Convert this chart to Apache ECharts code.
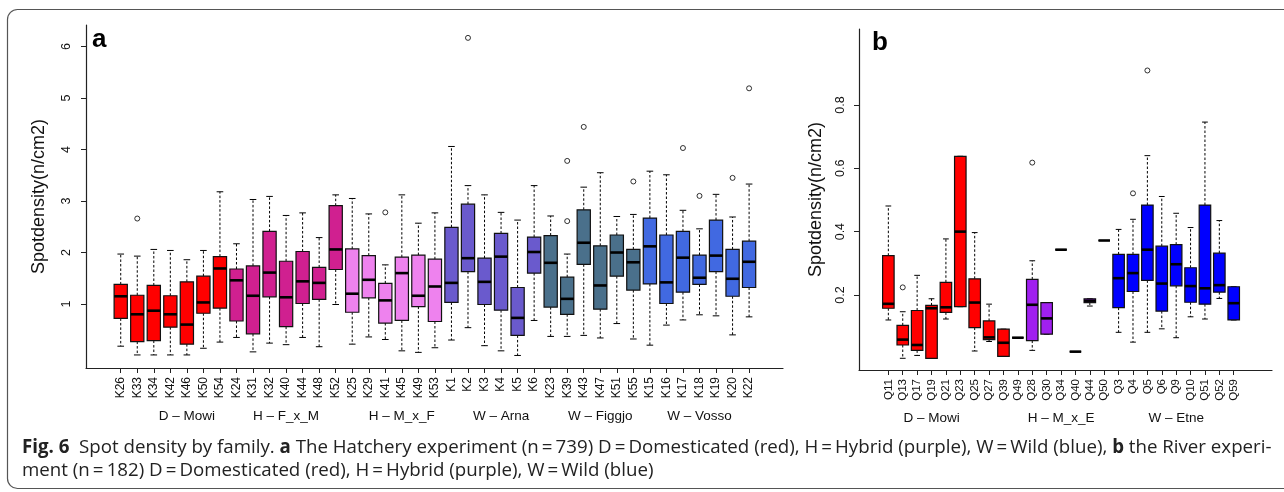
<!DOCTYPE html>
<html><head><meta charset="utf-8">
<script src="https://cdn.jsdelivr.net/npm/echarts@6/dist/echarts.min.js"></script>
<style>html,body{margin:0;padding:0;background:#fff}#c{width:1284px;height:492px}</style>
</head><body><div id="c"></div>
<script>
// ---------- Panel a: Hatchery experiment ----------
const namesA = ['K26','K33','K34','K42','K46','K50','K54','K24','K31','K32','K40','K44','K48','K52','K25','K29','K41','K45','K49','K53','K1','K2','K3','K4','K5','K6','K23','K39','K43','K47','K51','K55','K15','K16','K17','K18','K19','K20','K22'];
const groupA = [0,0,0,0,0,0,0, 1,1,1,1,1,1,1, 2,2,2,2,2,2, 3,3,3,3,3,3, 4,4,4,4,4,4, 5,5,5,5,5,5,5];
const lowA  = [0.18,0.01,0.01,0.01,0.01,0.14,0.26, 0.35,0.07,0.24,0.21,0.35,0.17,0.99, 0.22,0.36,0.31,0.09,0.06,0.15, 0.30,0.54,0.19,0.09,0.00,0.68, 0.37,0.37,0.39,0.34,0.62,0.32, 0.20,0.59,0.69,0.79,0.77,0.40,0.75];
const q1A   = [0.72,0.27,0.29,0.55,0.22,0.82,0.92, 0.67,0.42,1.14,0.56,1.01,1.09,1.67, 0.84,1.12,0.63,0.68,0.95,0.66, 1.03,1.63,0.99,0.88,0.39,1.60, 0.94,0.80,1.77,0.90,1.54,1.27, 1.39,1.01,1.23,1.38,1.63,1.15,1.32];
const medA  = [1.15,0.80,0.87,0.80,0.60,1.03,1.69, 1.46,1.16,1.61,1.13,1.44,1.41,2.06, 1.20,1.47,1.07,1.60,1.16,1.34, 1.41,1.89,1.43,1.92,0.73,2.01, 1.80,1.10,2.19,1.36,2.00,1.81, 2.12,1.42,1.90,1.51,1.94,1.49,1.82];
const q3A   = [1.38,1.17,1.36,1.16,1.43,1.54,1.92, 1.68,1.74,2.41,1.83,2.02,1.71,2.91, 2.07,1.94,1.40,1.91,1.95,1.87, 2.49,2.94,1.89,2.37,1.32,2.30, 2.33,1.52,2.83,2.13,2.34,2.06, 2.67,2.34,2.41,1.95,2.63,2.06,2.22];
const highA = [1.97,1.93,2.06,2.04,1.86,2.04,3.18, 2.17,3.03,3.09,2.72,2.77,2.29,3.12, 3.05,2.75,1.76,3.12,2.57,2.77, 4.06,3.30,3.12,2.78,2.63,3.30, 2.71,1.97,3.27,3.55,2.70,2.74, 3.58,3.51,2.82,2.46,3.13,2.69,3.33];
const outNamesA = ['K33','K41','K2','K39','K39','K43','K55','K17','K18','K20','K22'];
const outValsA  = [2.66,2.78,6.17,3.78,2.61,4.44,3.38,4.03,3.10,3.45,5.19];
const groupLabelsA = ['D – Mowi','H – F_x_M','H – M_x_F','W – Arna','W – Figgjo','W – Vosso'];
const groupLabelPosA = [5,11,18,24,30,36];
const yTicksA = [1,2,3,4,5,6];

// ---------- Panel b: River experiment ----------
const namesB = ['Q11','Q13','Q17','Q19','Q21','Q23','Q25','Q27','Q39','Q49','Q28','Q30','Q34','Q40','Q44','Q50','Q3','Q4','Q5','Q6','Q9','Q10','Q51','Q52','Q59'];
const groupB = [0,0,0,0,0,0,0,0,0, 1,1,1,1,1,1,1, 2,2,2,2,2,2,2,2,2];
const lowB  = [0.121,0.000,0.009,0.000,0.124,0.163,0.023,0.053,0.006, 0.065,0.025,0.076,0.343,0.021,0.165,0.372, 0.082,0.051,0.082,0.093,0.065,0.131,0.124,0.189,0.121];
const q1B   = [0.158,0.042,0.025,0.000,0.145,0.163,0.097,0.059,0.006, 0.065,0.056,0.076,0.343,0.021,0.176,0.372, 0.160,0.211,0.246,0.149,0.229,0.177,0.171,0.209,0.121];
const medB  = [0.172,0.059,0.042,0.158,0.161,0.400,0.176,0.066,0.049, 0.065,0.169,0.126,0.343,0.021,0.182,0.372, 0.253,0.269,0.343,0.236,0.297,0.228,0.221,0.231,0.174];
const q3B   = [0.324,0.104,0.151,0.167,0.240,0.638,0.251,0.118,0.092, 0.065,0.249,0.176,0.343,0.021,0.188,0.372, 0.328,0.328,0.484,0.354,0.359,0.286,0.484,0.332,0.226];
const highB = [0.481,0.147,0.262,0.188,0.377,0.638,0.397,0.171,0.092, 0.065,0.308,0.176,0.343,0.021,0.188,0.372, 0.407,0.439,0.640,0.511,0.458,0.413,0.746,0.435,0.226];
const outNamesB = ['Q13','Q28','Q4','Q5'];
const outValsB  = [0.224,0.618,0.521,0.909];
const groupLabelsB = ['D – Mowi','H – M_x_E','W – Etne'];
const groupLabelPosB = [4,13,21];
const yTicksB = [0.2,0.4,0.6,0.8];

// ---------- styles ----------
const paletteA = ['#FF0000','#D02090','#EE82EE','#6A5ACD','#4A708B','#4169E1'];
const paletteB = ['#FF0000','#A020F0','#0000FF'];
const rFont = 'Liberation Sans, Arial, Helvetica, sans-serif';
const capFont = '"Open Sans", "Noto Sans", sans-serif';

function boxData(lo,q1,md,q3,hi){ return lo.map((v,i)=>[i+1, v, q1[i], md[i], q3[i], hi[i]]); }
function outData(names, outNames, outVals){ return outNames.map((n,i)=>[names.indexOf(n)+1, outVals[i]]); }
function ticksFor(names){ return names.map((n,i)=>i+1); }

function boxRender(palette, groups){
  return function(params, api){
    const x = api.value(0);
    const pLo = api.coord([x, api.value(1)]);
    const pQ1 = api.coord([x, api.value(2)]);
    const pMd = api.coord([x, api.value(3)]);
    const pQ3 = api.coord([x, api.value(4)]);
    const pHi = api.coord([x, api.value(5)]);
    const unit = api.size([1, 0])[0];
    const hw = unit * 0.4, sw = unit * 0.2;
    const cx = pMd[0];
    const dash = {stroke:'#000', lineWidth:1, lineDash:[2.5,2]};
    const solid = {stroke:'#000', lineWidth:1};
    return {type:'group', children:[
      {type:'line', shape:{x1:cx,y1:pQ3[1],x2:cx,y2:pHi[1]}, style:dash},
      {type:'line', shape:{x1:cx,y1:pQ1[1],x2:cx,y2:pLo[1]}, style:dash},
      {type:'line', shape:{x1:cx-sw,y1:pHi[1],x2:cx+sw,y2:pHi[1]}, style:solid},
      {type:'line', shape:{x1:cx-sw,y1:pLo[1],x2:cx+sw,y2:pLo[1]}, style:solid},
      {type:'rect', shape:{x:cx-hw,y:pQ3[1],width:2*hw,height:pQ1[1]-pQ3[1]}, style:{fill:palette[groups[params.dataIndex]], stroke:'#111', lineWidth:1.2}},
      {type:'line', shape:{x1:cx-hw,y1:pMd[1],x2:cx+hw,y2:pMd[1]}, style:{stroke:'#000', lineWidth:2.6}}
    ]};
  };
}

function xAxes(gridIndex, min, max, names, gLabels, gPos, fs){
  return [{
    type:'value', gridIndex, min, max, position:'bottom',
    axisLine:{show:true, onZero:false, lineStyle:{color:'#222', width:1.2}},
    axisTick:{show:true, length:5, customValues:ticksFor(names), lineStyle:{color:'#222'}},
    axisLabel:{show:true, customValues:ticksFor(names), rotate:90, margin:9, fontSize:fs, fontFamily:rFont, color:'#111',
      formatter:(v)=>names[Math.round(v)-1] || ''},
    splitLine:{show:false}
  },{
    type:'value', gridIndex, min, max, position:'bottom',
    axisLine:{show:false}, axisTick:{show:false}, splitLine:{show:false},
    axisLabel:{show:true, customValues:gPos, margin:41, fontSize:13.5, fontFamily:rFont, color:'#111',
      formatter:(v)=>gLabels[gPos.indexOf(Math.round(v))] || ''}
  }];
}

function yAxis(gridIndex, min, max, ticks, gap, margin){
  return {
    type:'value', gridIndex, min, max,
    name:'Spotdensity(n/cm2)', nameLocation:'middle', nameRotate:90, nameGap:gap,
    nameTextStyle:{fontSize:18, fontFamily:rFont, color:'#111'},
    axisLine:{show:true, onZero:false, lineStyle:{color:'#222', width:1.2}},
    axisTick:{show:true, length:5, customValues:ticks, lineStyle:{color:'#222'}},
    axisLabel:{show:true, customValues:ticks, rotate:90, margin:margin, fontSize:12.5, fontFamily:rFont, color:'#111'},
    splitLine:{show:false}
  };
}

const chart = echarts.init(document.getElementById('c'), null, {renderer:'canvas'});
const xa = xAxes(0, -1.1, 41.05, namesA, groupLabelsA, groupLabelPosA, 12);
const xb = xAxes(1, -1.04, 27.66, namesB, groupLabelsB, groupLabelPosB, 11.5);

chart.setOption({
  animation:false,
  backgroundColor:'#fff',
  grid:[
    {left:86, top:25, width:697, height:343, outerBoundsMode:'none', containLabel:false},
    {left:859, top:29, width:413, height:341, outerBoundsMode:'none', containLabel:false}
  ],
  xAxis:[xa[0], xa[1], xb[0], xb[1]],
  yAxis:[yAxis(0, -0.2435, 6.42, yTicksA, 38, 13), yAxis(1, -0.037, 1.04, yTicksB, 34, 12)],
  series:[
    {type:'custom', xAxisIndex:0, yAxisIndex:0, renderItem:boxRender(paletteA, groupA),
     data:boxData(lowA,q1A,medA,q3A,highA), encode:{x:0, y:[1,2,3,4,5]}, clip:false},
    {type:'scatter', xAxisIndex:0, yAxisIndex:0, symbol:'circle', symbolSize:5,
     itemStyle:{color:'#fff', borderColor:'#000', borderWidth:1}, data:outData(namesA,outNamesA,outValsA)},
    {type:'custom', xAxisIndex:2, yAxisIndex:1, renderItem:boxRender(paletteB, groupB),
     data:boxData(lowB,q1B,medB,q3B,highB), encode:{x:0, y:[1,2,3,4,5]}, clip:false},
    {type:'scatter', xAxisIndex:2, yAxisIndex:1, symbol:'circle', symbolSize:5,
     itemStyle:{color:'#fff', borderColor:'#000', borderWidth:1}, data:outData(namesB,outNamesB,outValsB)}
  ],
  graphic:[
    {type:'rect', shape:{x:7.5, y:9.5, width:1300, height:479, r:10}, style:{fill:'none', stroke:'#555', lineWidth:1.2}, silent:true},
    {type:'text', left:92, top:27, style:{text:'a', font:'bold 26px ' + rFont, fill:'#000'}},
    {type:'text', left:872, top:30, style:{text:'b', font:'bold 26px ' + rFont, fill:'#000'}},
    {type:'text', left:22, top:438, style:{
      text:'{b|Fig. 6}  Spot density by family. {b|a} The Hatchery experiment (n\u2009=\u2009739) D\u2009=\u2009Domesticated (red), H\u2009=\u2009Hybrid (purple), W\u2009=\u2009Wild (blue), {b|b} the River experi-',
      font:'18.7px ' + capFont, fill:'#222',
      rich:{b:{fontWeight:'bold', fontSize:18.7, fontFamily:capFont, fill:'#222'}}
    }},
    {type:'text', left:22, top:461, style:{
      text:'ment (n\u2009=\u2009182) D\u2009=\u2009Domesticated (red), H\u2009=\u2009Hybrid (purple), W\u2009=\u2009Wild (blue)',
      font:'18.7px ' + capFont, fill:'#222'
    }}
  ]
});
</script></body></html>
